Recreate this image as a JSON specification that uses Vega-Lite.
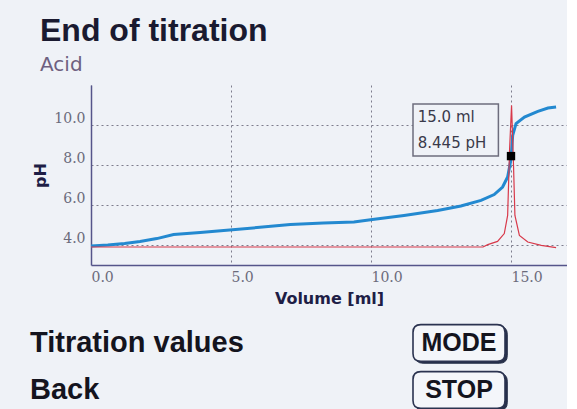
{
  "$schema": "https://vega.github.io/schema/vega-lite/v6.json",
  "background": "#eff2f7",
  "padding": {"left": 30, "top": 15, "right": 0, "bottom": 0},
  "autosize": {"type": "pad"},
  "bounds": "flush",
  "spacing": 78,
  "title": {
    "text": "End of titration",
    "subtitle": "Acid",
    "anchor": "start",
    "frame": "group",
    "dx": -51,
    "font": "Liberation Sans",
    "fontSize": 32,
    "fontWeight": "bold",
    "color": "#1a1a30",
    "subtitleFont": "DejaVu Sans",
    "subtitleFontSize": 20,
    "subtitleColor": "#6e6080",
    "subtitlePadding": 7,
    "offset": 9
  },
  "datasets": {
    "curves": [
      {"series": "pH", "volume": 0.0, "value": 3.95},
      {"series": "pH", "volume": 0.6, "value": 4.0},
      {"series": "pH", "volume": 1.2, "value": 4.08},
      {"series": "pH", "volume": 1.75, "value": 4.18},
      {"series": "pH", "volume": 2.35, "value": 4.32},
      {"series": "pH", "volume": 2.95, "value": 4.52},
      {"series": "pH", "volume": 3.9, "value": 4.62},
      {"series": "pH", "volume": 4.74, "value": 4.73},
      {"series": "pH", "volume": 5.93, "value": 4.87},
      {"series": "pH", "volume": 7.12, "value": 5.02},
      {"series": "pH", "volume": 8.3, "value": 5.1},
      {"series": "pH", "volume": 9.39, "value": 5.15},
      {"series": "pH", "volume": 10.05, "value": 5.28},
      {"series": "pH", "volume": 11.18, "value": 5.48},
      {"series": "pH", "volume": 12.38, "value": 5.73},
      {"series": "pH", "volume": 13.21, "value": 5.95},
      {"series": "pH", "volume": 13.93, "value": 6.23},
      {"series": "pH", "volume": 14.4, "value": 6.52},
      {"series": "pH", "volume": 14.7, "value": 6.9},
      {"series": "pH", "volume": 14.88, "value": 7.4},
      {"series": "pH", "volume": 15.0, "value": 8.3},
      {"series": "pH", "volume": 15.06, "value": 9.48},
      {"series": "pH", "volume": 15.18, "value": 10.07},
      {"series": "pH", "volume": 15.48, "value": 10.4},
      {"series": "pH", "volume": 15.96, "value": 10.68},
      {"series": "pH", "volume": 16.32, "value": 10.85},
      {"series": "pH", "volume": 16.61, "value": 10.9},
      {"series": "dpH/dV", "volume": 0.0, "value": 3.9},
      {"series": "dpH/dV", "volume": 14.0, "value": 3.9},
      {"series": "dpH/dV", "volume": 14.17, "value": 4.02},
      {"series": "dpH/dV", "volume": 14.52, "value": 4.18},
      {"series": "dpH/dV", "volume": 14.76, "value": 4.57},
      {"series": "dpH/dV", "volume": 14.88, "value": 5.48},
      {"series": "dpH/dV", "volume": 14.95, "value": 8.8},
      {"series": "dpH/dV", "volume": 15.02, "value": 10.98},
      {"series": "dpH/dV", "volume": 15.09, "value": 7.98},
      {"series": "dpH/dV", "volume": 15.14, "value": 5.48},
      {"series": "dpH/dV", "volume": 15.3, "value": 4.48},
      {"series": "dpH/dV", "volume": 15.6, "value": 4.15},
      {"series": "dpH/dV", "volume": 16.08, "value": 3.98},
      {"series": "dpH/dV", "volume": 16.61, "value": 3.87}
    ],
    "endpoint": [
      {"volume": 15.0, "value": 8.445, "x1": 11.5, "x2": 14.55, "y1": 8.45, "y2": 11.05}
    ],
    "endpointLabels": [
      {"volume": 11.67, "value": 10.4, "label": "15.0 ml"},
      {"volume": 11.67, "value": 9.1, "label": "8.445 pH"}
    ],
    "menu": [
      {"item": "Titration values", "kind": "menu", "row": "r1"},
      {"item": "Back", "kind": "menu", "row": "r2"},
      {"item": "MODE", "kind": "button", "row": "r1"},
      {"item": "STOP", "kind": "button", "row": "r2"}
    ]
  },
  "vconcat": [
    {
      "width": 476,
      "height": 180,
      "layer": [
        {
          "data": {"name": "endpoint"},
          "mark": {"type": "rect", "fill": "#eff2f7", "stroke": "#6d6d7d", "strokeWidth": 1.5},
          "encoding": {
            "x": {"field": "x1", "type": "quantitative"},
            "x2": {"field": "x2"},
            "y": {"field": "y1", "type": "quantitative"},
            "y2": {"field": "y2"}
          }
        },
        {
          "data": {"name": "curves"},
          "mark": {"type": "line", "interpolate": "linear"},
          "encoding": {
            "x": {"field": "volume", "type": "quantitative"},
            "y": {"field": "value", "type": "quantitative"},
            "color": {"field": "series", "type": "nominal", "scale": {"domain": ["dpH/dV", "pH"], "range": ["#d8394a", "#2389d0"]}, "legend": null},
            "strokeWidth": {"field": "series", "type": "nominal", "scale": {"domain": ["dpH/dV", "pH"], "range": [1.2, 3]}, "legend": null},
            "order": {"field": "volume", "type": "quantitative"}
          }
        },
        {
          "data": {"name": "endpoint"},
          "mark": {"type": "square", "size": 70, "filled": true, "color": "#000000", "opacity": 1},
          "encoding": {
            "x": {"field": "volume", "type": "quantitative"},
            "y": {"field": "value", "type": "quantitative"}
          }
        },
        {
          "data": {"name": "endpointLabels"},
          "mark": {"type": "text", "align": "left", "baseline": "middle", "font": "DejaVu Sans", "fontSize": 15, "color": "#3a3a4a"},
          "encoding": {
            "x": {"field": "volume", "type": "quantitative"},
            "y": {"field": "value", "type": "quantitative"},
            "text": {"field": "label"}
          }
        }
      ],
      "encoding": {
        "x": {"type": "quantitative", "scale": {"domain": [0, 17], "nice": false, "zero": false},
          "axis": {"values": [0, 5, 10, 15], "format": ".1f", "title": "Volume [ml]", "labelAlign": "left", "labelPadding": 5, "titlePadding": 6}},
        "y": {"type": "quantitative", "scale": {"domain": [3, 12], "nice": false, "zero": false},
          "axis": {"values": [4, 6, 8, 10], "format": ".1f", "title": "pH", "labelBaseline": "bottom", "labelPadding": 6, "titlePadding": 5}}
      }
    },
    {
      "width": 368,
      "height": 47,
      "data": {"name": "menu"},
      "encoding": {
        "x": {"field": "kind", "type": "nominal", "scale": {"type": "point", "padding": 0, "domain": ["menu", "button"]}, "axis": null},
        "y": {"field": "row", "type": "nominal", "scale": {"type": "point", "padding": 0, "domain": ["r1", "r2"]}, "axis": null}
      },
      "layer": [
        {
          "transform": [{"filter": "datum.kind == 'button'"}],
          "mark": {"type": "point", "shape": "M -0.78 -0.36 L 0.88 -0.36 Q 1.05 -0.36 1.05 -0.19 L 1.05 0.27 Q 1.05 0.44 0.88 0.44 L -0.78 0.44 Q -0.95 0.44 -0.95 0.27 L -0.95 -0.19 Q -0.95 -0.36 -0.78 -0.36 Z", "size": 8464, "filled": true, "fill": "#27304a", "stroke": "#27304a", "strokeWidth": 1, "opacity": 1}
        },
        {
          "transform": [{"filter": "datum.kind == 'button'"}],
          "mark": {"type": "point", "shape": "M -0.83 -0.4 L 0.83 -0.4 Q 1 -0.4 1 -0.23 L 1 0.23 Q 1 0.4 0.83 0.4 L -0.83 0.4 Q -1 0.4 -1 0.23 L -1 -0.23 Q -1 -0.4 -0.83 -0.4 Z", "size": 8464, "filled": true, "fill": "#f4f6fa", "stroke": "#2b3350", "strokeWidth": 1.6, "opacity": 1}
        },
        {
          "transform": [{"filter": "datum.kind == 'menu'"}],
          "mark": {"type": "text", "align": "left", "baseline": "middle", "dx": -61, "font": "Liberation Sans", "fontWeight": "bold", "fontSize": 29, "color": "#14141e"},
          "encoding": {"text": {"field": "item"}}
        },
        {
          "transform": [{"filter": "datum.kind == 'button'"}],
          "mark": {"type": "text", "align": "center", "baseline": "middle", "font": "Liberation Sans", "fontWeight": "bold", "fontSize": 25, "color": "#14141e"},
          "encoding": {"text": {"field": "item"}}
        }
      ]
    }
  ],
  "config": {
    "view": {"stroke": null},
    "axis": {
      "ticks": false,
      "grid": true,
      "gridDash": [2, 3],
      "gridColor": "#7d7d8d",
      "gridWidth": 1,
      "domainColor": "#55558a",
      "domainWidth": 1.5,
      "labelFont": "DejaVu Serif",
      "labelFontSize": 14,
      "labelColor": "#6b6b7b",
      "titleFont": "DejaVu Sans",
      "titleFontWeight": "bold",
      "titleFontSize": 16,
      "titleColor": "#1e1e46"
    }
  }
}
